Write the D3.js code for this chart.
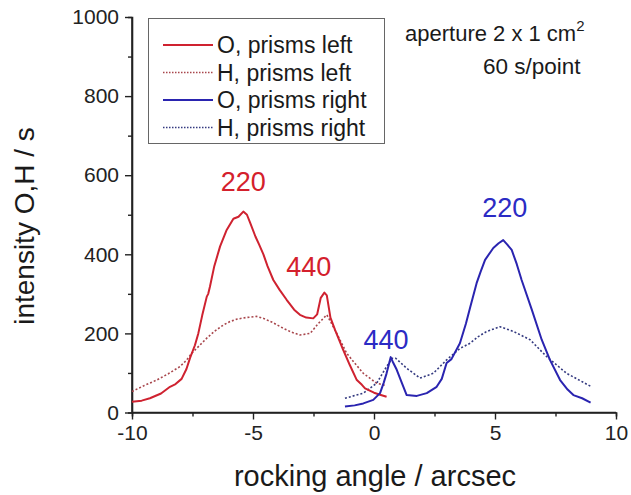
<!DOCTYPE html>
<html><head><meta charset="utf-8">
<script src="https://cdn.jsdelivr.net/npm/d3@7"></script>
<style>body{margin:0;background:#fff;} svg{display:block;font-family:"Liberation Sans",Arial,sans-serif;}</style>
</head><body>
<svg id="c" width="631" height="495"></svg>
<script>
// ---- data ----
const xTicks = [-10, -5, 0, 5, 10];
const xMinor = [-7.5, -2.5, 2.5, 7.5];
const yTicks = [0, 200, 400, 600, 800, 1000];
const yMinor = [100, 300, 500, 700, 900];

const oPrismsLeft = [[-10,27],[-9.6,30],[-9.26,36],[-8.8,48],[-8.43,65],[-8.2,72],[-7.95,85],[-7.75,110],[-7.6,138],[-7.4,170],[-7.26,200],[-7.1,245],[-6.91,293],[-6.85,300],[-6.78,318],[-6.6,370],[-6.36,420],[-6.1,460],[-5.81,490],[-5.6,495],[-5.4,508],[-5.25,500],[-5.12,480],[-4.9,445],[-4.75,425],[-4.57,400],[-4.4,370],[-4.16,335],[-3.9,310],[-3.61,285],[-3.3,260],[-3.06,247],[-2.8,240],[-2.51,238],[-2.35,248],[-2.2,290],[-2.05,303],[-1.95,296],[-1.8,240],[-1.61,209],[-1.45,185],[-1.27,158],[-1.0,120],[-0.71,82],[-0.5,70],[-0.37,61],[0.0,50],[0.25,45],[0.52,40]];
const hPrismsLeft = [[-10,53],[-9.5,68],[-8.98,82],[-8.5,98],[-8.02,116],[-7.75,132],[-7.53,150],[-7.2,170],[-6.91,188],[-6.6,205],[-6.23,221],[-5.95,230],[-5.67,236],[-5.3,240],[-4.85,243],[-4.57,238],[-4.2,228],[-3.75,213],[-3.4,203],[-3.06,196],[-2.64,200],[-2.3,225],[-1.95,247],[-1.75,225],[-1.54,200],[-1.13,150],[-0.8,125],[-0.44,99],[0.11,74],[0.5,68]];
const oPrismsRight = [[-1.2,15],[-0.8,18],[-0.44,23],[-0.03,32],[0.25,49],[0.4,75],[0.52,99],[0.69,140],[0.8,125],[0.94,108],[1.15,75],[1.35,44],[1.77,42],[2.18,49],[2.59,65],[2.8,85],[3.0,125],[3.2,135],[3.55,175],[3.8,225],[3.97,265],[4.24,327],[4.4,355],[4.59,386],[4.93,416],[5.15,428],[5.34,436],[5.5,425],[5.69,411],[5.9,375],[6.1,335],[6.52,260],[6.93,184],[7.27,133],[7.69,82],[8.0,58],[8.24,44],[8.6,36],[8.95,25]];
const hPrismsRight = [[-1.2,36],[-0.44,49],[0.11,74],[0.52,116],[0.75,137],[0.9,137],[1.35,112],[1.9,87],[2.45,99],[3.0,133],[3.55,162],[3.97,175],[4.31,192],[4.66,205],[5.21,217],[5.76,205],[6.45,184],[7.14,141],[7.96,99],[8.99,65]];

const seriesNames = ["O, prisms left", "H, prisms left", "O, prisms right", "H, prisms right"];
const peakLabels = [{t:"220", x:-5.4, y:560, c:"red"}, {t:"440", x:-2.7, y:345, c:"red"}, {t:"440", x:0.5, y:160, c:"blue"}, {t:"220", x:5.4, y:495, c:"blue"}];

// ---- drawing ----
const RED = "#cf2230", RED_TXT = "#d4202c", BLUE = "#2a24b0", BLUE_TXT = "#2b2bc4";
const RED_DOT = "#a8464c", BLUE_DOT = "#343a80";
const svg = d3.select("#c");
const x = d3.scaleLinear().domain([-10, 10]).range([132, 616]);
const y = d3.scaleLinear().domain([0, 1000]).range([412.5, 17]);
const axisColor = "#222";

// axes
const gx = svg.append("g").attr("transform", `translate(0,${y(0)})`);
gx.call(d3.axisBottom(x).tickValues(xTicks).tickSize(7).tickFormat(d => String(d)));
gx.append("g").call(d3.axisBottom(x).tickValues(xMinor).tickSize(4).tickFormat(""));
const gy = svg.append("g").attr("transform", `translate(${x(-10)},0)`);
gy.call(d3.axisLeft(y).tickValues(yTicks).tickSize(7).tickFormat(d => String(d)));
gy.append("g").call(d3.axisLeft(y).tickValues(yMinor).tickSize(4).tickFormat(""));
svg.selectAll(".domain").attr("stroke", axisColor).attr("stroke-width", 1.6);
svg.selectAll(".tick line").attr("stroke", axisColor).attr("stroke-width", 1.4);
gx.selectAll(".tick text").attr("font-size", 21).attr("fill", "#222").attr("dy", "1.0em").attr("y", 6).attr("font-family","Liberation Sans, Arial, sans-serif");
gy.selectAll(".tick text").attr("font-size", 21).attr("fill", "#222").attr("x", -13).attr("font-family","Liberation Sans, Arial, sans-serif");
gx.select(".domain").attr("d", `M${x(-10)},0H${x(10)}`);
gy.select(".domain").attr("d", `M0,${y(0)}V${y(1000)}`);

// axis titles
svg.append("text").attr("x", 375).attr("y", 486).attr("text-anchor", "middle")
  .attr("font-size", 29).attr("fill", "#1a1a1a").text("rocking angle / arcsec");
svg.append("text").attr("transform", "translate(34,226) rotate(-90)").attr("text-anchor", "middle")
  .attr("font-size", 28).attr("fill", "#1a1a1a").text("intensity O,H / s");

// lines
const line = d3.line().x(d => x(d[0])).y(d => y(d[1]));
const specs = [
  {data: hPrismsLeft, color: RED_DOT, dash: "2,2", w: 1.6},
  {data: hPrismsRight, color: BLUE_DOT, dash: "2,2", w: 1.6},
  {data: oPrismsLeft, color: RED, dash: null, w: 2},
  {data: oPrismsRight, color: BLUE, dash: null, w: 2}
];
specs.forEach(s => {
  svg.append("path").datum(s.data).attr("d", line).attr("fill", "none")
    .attr("stroke", s.color).attr("stroke-width", s.w)
    .attr("stroke-dasharray", s.dash).attr("stroke-linejoin", "round");
});

// peak labels
peakLabels.forEach(p => {
  svg.append("text").attr("x", x(p.x)).attr("y", y(p.y)).attr("text-anchor", "middle")
    .attr("font-size", 27).attr("fill", p.c === "red" ? RED_TXT : BLUE_TXT).text(p.t);
});

// legend
const lg = svg.append("g");
lg.append("rect").attr("x", 148.5).attr("y", 18.5).attr("width", 236).attr("height", 125)
  .attr("fill", "#fff").attr("stroke", "#666").attr("stroke-width", 1);
const legendStyles = [
  {color: RED, dash: null, w: 2}, {color: RED_DOT, dash: "1.5,1.5", w: 1.4},
  {color: BLUE, dash: null, w: 2}, {color: BLUE_DOT, dash: "1.5,1.5", w: 1.4}
];
seriesNames.forEach((n, i) => {
  const cy = 45 + i * 27.5;
  lg.append("line").attr("x1", 163).attr("x2", 213).attr("y1", cy).attr("y2", cy)
    .attr("stroke", legendStyles[i].color).attr("stroke-width", legendStyles[i].w)
    .attr("stroke-dasharray", legendStyles[i].dash);
  lg.append("text").attr("x", 217).attr("y", cy + 8).attr("font-size", 23).attr("fill", "#1a1a1a").text(n);
});

// note
const note = svg.append("text").attr("x", 405).attr("y", 41).attr("font-size", 22).attr("fill", "#1a1a1a");
note.append("tspan").text("aperture 2 x 1 cm");
note.append("tspan").attr("dy", -10).attr("font-size", 15).text("2");
svg.append("text").attr("x", 483).attr("y", 74).attr("font-size", 22.5).attr("fill", "#1a1a1a").text("60 s/point");
</script>
</body></html>
